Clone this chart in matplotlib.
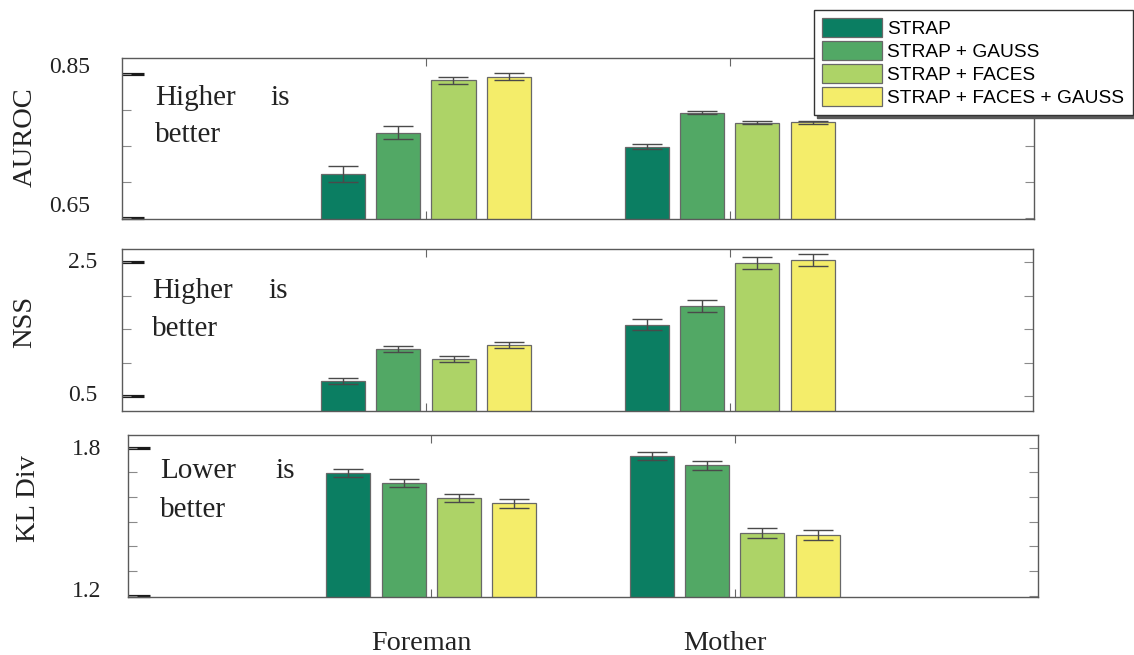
import matplotlib
matplotlib.use("Agg")
import matplotlib.pyplot as plt
import matplotlib.transforms as mtransforms
from matplotlib.patches import Patch
from matplotlib.font_manager import FontProperties
import numpy as np

# ---- data -------------------------------------------------------------
videos = ["Foreman", "Mother"]
methods = ["STRAP", "STRAP + GAUSS", "STRAP + FACES", "STRAP + FACES + GAUSS"]
colors = ["#0b7e62", "#52a865", "#add367", "#f4ed6a"]

auroc_foreman = [0.711, 0.768, 0.841, 0.846]
auroc_mother = [0.749, 0.796, 0.782, 0.783]
auroc_err_foreman = [0.011, 0.009, 0.005, 0.005]
auroc_err_mother = [0.003, 0.002, 0.002, 0.002]

nss_foreman = [0.73, 1.21, 1.06, 1.26]
nss_mother = [1.57, 1.85, 2.485, 2.535]
nss_err_foreman = [0.04, 0.045, 0.04, 0.045]
nss_err_mother = [0.08, 0.087, 0.09, 0.09]

kl_foreman = [1.698, 1.656, 1.597, 1.574]
kl_mother = [1.767, 1.729, 1.454, 1.446]
kl_err_foreman = [0.016, 0.016, 0.017, 0.019]
kl_err_mother = [0.017, 0.018, 0.020, 0.022]

auroc_ticks = [0.65, 0.70, 0.75, 0.80, 0.85]
auroc_labels = ["0.65", "0.85"]
nss_ticks = [0.5, 1.0, 1.5, 2.0, 2.5]
nss_labels = ["0.5", "2.5"]
kl_ticks = [1.2, 1.3, 1.4, 1.5, 1.6, 1.7, 1.8]
kl_labels = ["1.2", "1.8"]

# ---- figure -----------------------------------------------------------
W, H = 1134, 655
fig = plt.figure(figsize=(W / 100, H / 100), dpi=100)
serif = "Liberation Serif"


def px_axes(left, top, right, bottom):
    return [left / W, 1 - bottom / H, (right - left) / W, (bottom - top) / H]


panels = [
    dict(rect=px_axes(122, 58, 1033.5, 218.7), ylim=(0.649, 0.872), ylabel="AUROC",
         vals=[auroc_foreman, auroc_mother], errs=[auroc_err_foreman, auroc_err_mother],
         ticks=auroc_ticks, labels=auroc_labels, label_shift=[11, 6], label_pad=32,
         ylabel_xy=(25, 137.5), note=("Higher", "is", "better"),
         note_x=(155, 270), note_y=(105, 141.7)),
    dict(rect=px_axes(122.3, 249, 1033.3, 411), ylim=(0.284, 2.693), ylabel="NSS",
         vals=[nss_foreman, nss_mother], errs=[nss_err_foreman, nss_err_mother],
         ticks=nss_ticks, labels=nss_labels, label_shift=[1, -1], label_pad=25,
         ylabel_xy=(25, 322), note=("Higher", "is", "better"),
         note_x=(152, 268), note_y=(298.3, 336)),
    dict(rect=px_axes(127.7, 435, 1038.3, 596.7), ylim=(1.196, 1.8515), ylabel="KL Div",
         vals=[kl_foreman, kl_mother], errs=[kl_err_foreman, kl_err_mother],
         ticks=kl_ticks, labels=kl_labels, label_shift=[4, -2], label_pad=26,
         ylabel_xy=(28, 499), note=("Lower", "is", "better"),
         note_x=(160, 275.7), note_y=(478.3, 516.7)),
]

centers = np.arange(1, len(videos) + 1)
step = 0.182
bar_w = 0.145

axes = []
for p in panels:
    ax = fig.add_axes(p["rect"])
    axes.append(ax)
    vals = np.array(p["vals"])
    errs = np.array(p["errs"])
    for i in range(len(methods)):
        x = centers + (i - 1.5) * step
        ax.bar(x, vals[:, i], width=bar_w, color=colors[i], edgecolor="#686868",
               linewidth=0.9, zorder=2)
        ax.errorbar(x, vals[:, i], yerr=errs[:, i], fmt="none", ecolor="#4a4a4a",
                    elinewidth=1.0, capsize=10.5, capthick=1.0, zorder=3)
    ax.set_xlim(0, 3)
    ax.set_ylim(*p["ylim"])

    # x ticks at group centres, inside, top and bottom, no labels
    ax.set_xticks(centers)
    ax.set_xticklabels([])
    ax.tick_params(axis="x", which="major", direction="in", length=6, width=0.8,
                   color="#666666", top=True, bottom=True)

    # thin grey ticks on both sides at every value; thick black ones at the ends
    lo, hi = p["ticks"][0], p["ticks"][-1]
    ax.set_yticks([lo, hi])
    ax.set_yticklabels([])
    ax.set_yticks(p["ticks"], minor=True)
    ax.yaxis.remove_overlapping_locs = False
    ax.tick_params(axis="y", which="minor", direction="in", length=6.5, width=0.8,
                   color="#8a8a8a", left=True, right=True)
    ax.tick_params(axis="y", which="major", direction="in", length=16, width=2.3,
                   color="#1a1a1a", left=True, right=False)

    for s in ax.spines.values():
        s.set_color("#5a5a5a")
        s.set_linewidth(1.0)

    # tick labels
    ytrans = ax.get_yaxis_transform()
    for val, txt, dy in zip([lo, hi], p["labels"], p["label_shift"]):
        off = mtransforms.ScaledTranslation(-p["label_pad"] / 100, dy / 100,
                                            fig.dpi_scale_trans)
        ax.text(0, val, txt, transform=ytrans + off, ha="right", va="center",
                family=serif, fontsize=17, color="#222222")

    # y label
    l, b, w, h = p["rect"]
    lx = (p["ylabel_xy"][0] / W - l) / w
    ly = ((1 - p["ylabel_xy"][1] / H) - b) / h
    ax.set_ylabel(p["ylabel"], family=serif, fontsize=20.5, color="#222222", va="center")
    ax.yaxis.set_label_coords(lx, ly)

    # annotation
    w1, w2, w3 = p["note"]
    for word, xp, yp in [(w1, p["note_x"][0], p["note_y"][0]),
                         (w2, p["note_x"][1], p["note_y"][0]),
                         (w3, p["note_x"][0], p["note_y"][1])]:
        fig.text(xp / W, 1 - yp / H, word, family=serif, fontsize=21,
                 color="#222222", ha="left", va="baseline")

# group names under the last panel
name_trans = mtransforms.blended_transform_factory(axes[0].transData, fig.transFigure) + \
    mtransforms.ScaledTranslation(-4.5 / 100, 0, fig.dpi_scale_trans)
for c, name in zip(centers, videos):
    fig.text(c, 1 - 650 / H, name, transform=name_trans, family=serif, fontsize=20.3,
             color="#222222", ha="center", va="baseline")

# legend
handles = [Patch(facecolor=c, edgecolor="#686868", linewidth=0.9) for c in colors]
fig.legend(handles, methods, loc="upper right",
           bbox_to_anchor=(1132.5 / W, 1 - 10 / H), bbox_transform=fig.transFigure,
           borderaxespad=0, frameon=True, fancybox=False, edgecolor="#333333",
           framealpha=1, prop=FontProperties(family="Liberation Sans", size=13.8),
           handlelength=3.1, handleheight=1.15, handletextpad=0.3,
           labelspacing=0.15, borderpad=0.42,
           shadow={"color": "0.35", "alpha": 1})

fig.savefig("out.png", dpi=100)
